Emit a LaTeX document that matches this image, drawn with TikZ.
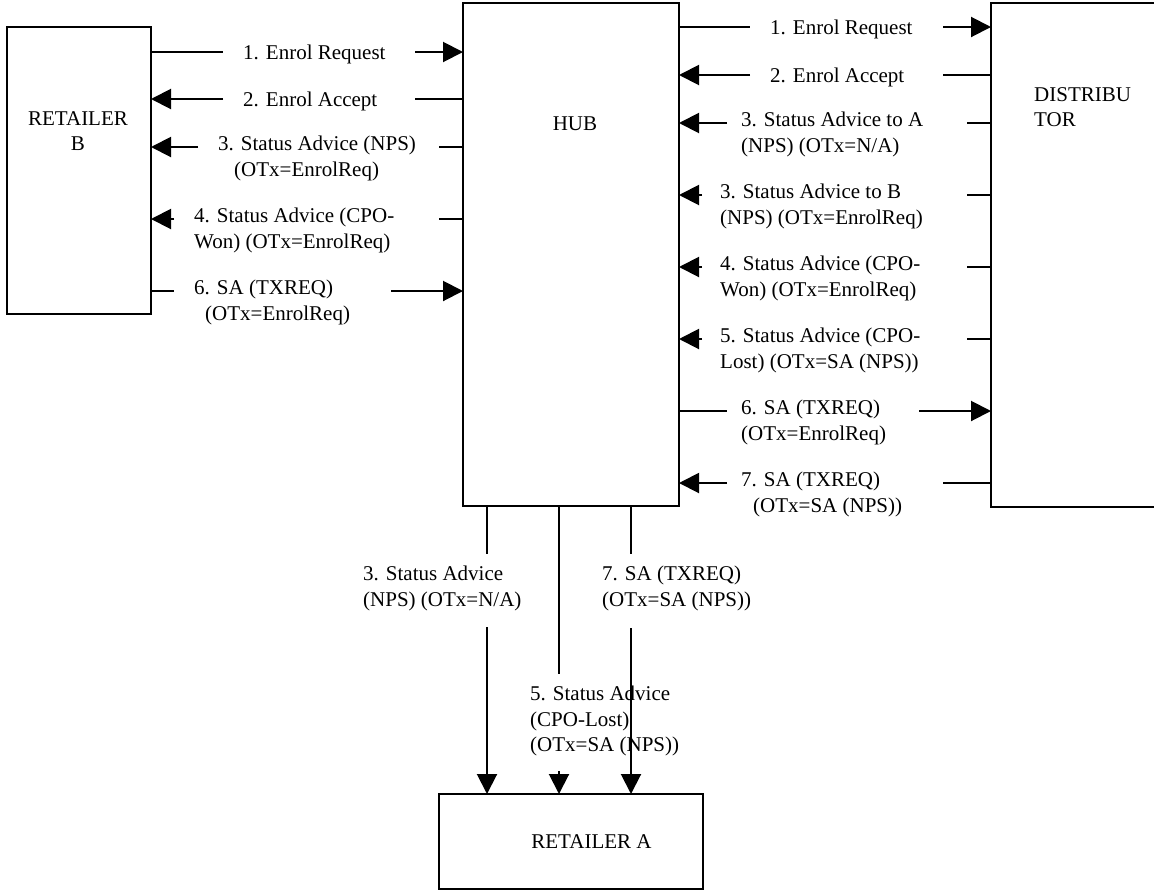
\documentclass[tikz,border=0pt]{standalone}
\usepackage{fontspec}
\setmainfont{Liberation Serif}
\usetikzlibrary{arrows.meta}
\tikzset{
  box/.style={draw, line width=2pt, inner sep=0pt, outer sep=0pt, anchor=north west},
  lbl/.style={font=\fontsize{21}{25.5}\selectfont, inner sep=0pt, anchor=north west, align=left, yshift=10.85pt, execute at begin node=\strut},
  ctr/.style={lbl, anchor=north, align=center},
  wire/.style={line width=2pt},
  arr/.style={line width=2pt, -{Triangle[length=20pt,width=20pt]}}
}
\begin{document}
\begin{tikzpicture}[x=1pt,y=-1pt]
\clip (0,0) rectangle (1154,892);
\fill[white] (0,0) rectangle (1154,892);
% boxes
\node[box, minimum width=144pt, minimum height=287pt] (rb) at (7,27) {};
\node[box, minimum width=216pt, minimum height=503pt] (hub) at (463,3) {};
\node[box, minimum width=180pt, minimum height=504pt] (dist) at (991,3) {};
\node[box, minimum width=264pt, minimum height=95pt] (ra) at (439,794) {};
% box titles
\node[ctr] (rbt) at (78,122) {RETAILER\\B};
\node[ctr] (hubt) at (575,123) {HUB};
\node[lbl] (distt) at (1034,98) {DISTRIBU\\TOR};
\node[ctr] (rat) at (591.5,841) {RETAILER A};
% left labels
\node[lbl] (t1) at (243,52) {1. Enrol Request};
\node[lbl] (t2) at (243,99) {2. Enrol Accept};
\node[lbl] (t3) at (218,147) {3. Status Advice (NPS)\\\hspace*{16pt}(OTx=EnrolReq)};
\node[lbl] (t4) at (194,219) {4. Status Advice (CPO-\\Won) (OTx=EnrolReq)};
\node[lbl] (t6) at (194,291) {6. SA (TXREQ)\\\hspace*{11pt}(OTx=EnrolReq)};
% right labels
\node[lbl] (r1) at (770,27) {1. Enrol Request};
\node[lbl] (r2) at (770,75) {2. Enrol Accept};
\node[lbl] (r3) at (741,123) {3. Status Advice to A\\(NPS) (OTx=N/A)};
\node[lbl] (r4) at (720,195) {3. Status Advice to B\\(NPS) (OTx=EnrolReq)};
\node[lbl] (r5) at (720,267) {4. Status Advice (CPO-\\Won) (OTx=EnrolReq)};
\node[lbl] (r6) at (720,339) {5. Status Advice (CPO-\\Lost) (OTx=SA (NPS))};
\node[lbl] (r7) at (741,411) {6. SA (TXREQ)\\(OTx=EnrolReq)};
\node[lbl] (r8) at (741,483) {7. SA (TXREQ)\\\hspace*{12pt}(OTx=SA (NPS))};
% bottom labels
\node[lbl] (b3) at (363,577) {3. Status Advice\\(NPS) (OTx=N/A)};
\node[lbl] (b7) at (602,577) {7. SA (TXREQ)\\(OTx=SA (NPS))};
\node[lbl] (b5) at (530,697) {5. Status Advice\\(CPO-Lost)\\(OTx=SA (NPS))};
% left connectors
\coordinate (l1a) at (223,52);  \coordinate (l1b) at (415,52);
\coordinate (l2a) at (223,99);  \coordinate (l2b) at (415,99);
\coordinate (l3a) at (198,147); \coordinate (l3b) at (439,147);
\coordinate (l4a) at (174,219); \coordinate (l4b) at (439,219);
\coordinate (l6a) at (174,291); \coordinate (l6b) at (391,291);
\draw[wire] (rb.east |- l1a) -- (l1a); \draw[arr] (l1b) -- (hub.west |- l1b);
\draw[arr] (l2a) -- (rb.east |- l2a);  \draw[wire] (l2b) -- (hub.west |- l2b);
\draw[arr] (l3a) -- (rb.east |- l3a);  \draw[wire] (l3b) -- (hub.west |- l3b);
\draw[arr] (l4a) -- (rb.east |- l4a);  \draw[wire] (l4b) -- (hub.west |- l4b);
\draw[wire] (rb.east |- l6a) -- (l6a); \draw[arr] (l6b) -- (hub.west |- l6b);
% right connectors
\coordinate (q1a) at (750,27);  \coordinate (q1b) at (943,27);
\coordinate (q2a) at (750,75);  \coordinate (q2b) at (943,75);
\coordinate (q3a) at (727,123); \coordinate (q3b) at (967,123);
\coordinate (q4a) at (702,195); \coordinate (q4b) at (967,195);
\coordinate (q5a) at (702,267); \coordinate (q5b) at (967,267);
\coordinate (q6a) at (702,339); \coordinate (q6b) at (967,339);
\coordinate (q7a) at (727,411); \coordinate (q7b) at (919,411);
\coordinate (q8a) at (727,483); \coordinate (q8b) at (943,483);
\draw[wire] (hub.east |- q1a) -- (q1a); \draw[arr] (q1b) -- (dist.west |- q1b);
\draw[arr] (q2a) -- (hub.east |- q2a);  \draw[wire] (q2b) -- (dist.west |- q2b);
\draw[arr] (q3a) -- (hub.east |- q3a);  \draw[wire] (q3b) -- (dist.west |- q3b);
\draw[arr] (q4a) -- (hub.east |- q4a);  \draw[wire] (q4b) -- (dist.west |- q4b);
\draw[arr] (q5a) -- (hub.east |- q5a);  \draw[wire] (q5b) -- (dist.west |- q5b);
\draw[arr] (q6a) -- (hub.east |- q6a);  \draw[wire] (q6b) -- (dist.west |- q6b);
\draw[wire] (hub.east |- q7a) -- (q7a); \draw[arr] (q7b) -- (dist.west |- q7b);
\draw[arr] (q8a) -- (hub.east |- q8a);  \draw[wire] (q8b) -- (dist.west |- q8b);
% bottom connectors
\coordinate (d1a) at (487,554); \coordinate (d1b) at (487,627);
\coordinate (d2a) at (559,674); \coordinate (d2b) at (559,771);
\coordinate (d3a) at (631,554); \coordinate (d3b) at (631,628);
\draw[wire] (hub.south -| d1a) -- (d1a); \draw[arr] (d1b) -- (ra.north -| d1b);
\draw[wire] (hub.south -| d2a) -- (d2a); \draw[arr] (d2b) -- (ra.north -| d2b);
\draw[wire] (hub.south -| d3a) -- (d3a); \draw[arr] (d3b) -- (ra.north -| d3b);
\end{tikzpicture}
\end{document}
